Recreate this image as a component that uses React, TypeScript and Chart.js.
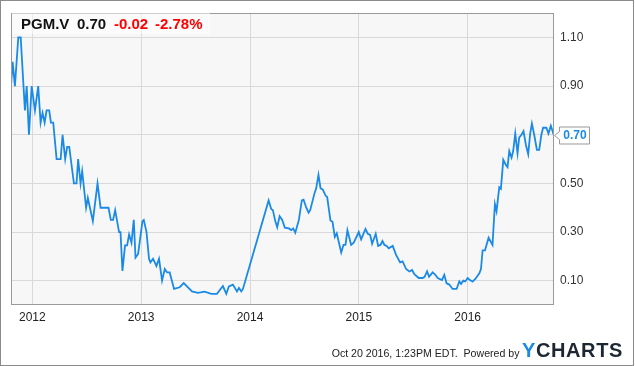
import React, { useEffect, useRef } from "react";
import { Chart, registerables } from "chart.js";

Chart.register(...registerables);

const dates: number[] = [
  2011.804, 2011.819, 2011.84, 2011.871, 2011.893, 2011.932, 2011.948, 2011.969, 2011.994, 2012.024,
  2012.054, 2012.076, 2012.094, 2012.113, 2012.131, 2012.155, 2012.171, 2012.192, 2012.223, 2012.26,
  2012.278, 2012.302, 2012.32, 2012.339, 2012.382, 2012.406, 2012.421, 2012.443, 2012.458, 2012.494,
  2012.51, 2012.556, 2012.599, 2012.627, 2012.7, 2012.721, 2012.742, 2012.761, 2012.797, 2012.81,
  2012.828, 2012.852, 2012.871, 2012.889, 2012.911, 2012.932, 2012.948, 2012.972, 2013.012, 2013.024,
  2013.049, 2013.072, 2013.085, 2013.109, 2013.125, 2013.14, 2013.164, 2013.192, 2013.217, 2013.238,
  2013.262, 2013.302, 2013.354, 2013.391, 2013.467, 2013.522, 2013.583, 2013.645, 2013.696, 2013.751,
  2013.782, 2013.806, 2013.843, 2013.88, 2013.898, 2013.92, 2013.935, 2014.171, 2014.195, 2014.21,
  2014.232, 2014.25, 2014.272, 2014.296, 2014.32, 2014.357, 2014.379, 2014.397, 2014.416, 2014.449,
  2014.476, 2014.492, 2014.517, 2014.538, 2014.553, 2014.593, 2014.608, 2014.629, 2014.648, 2014.669,
  2014.694, 2014.709, 2014.739, 2014.758, 2014.779, 2014.797, 2014.838, 2014.859, 2014.877, 2014.895,
  2014.929, 2014.953, 2014.999, 2015.021, 2015.061, 2015.082, 2015.104, 2015.122, 2015.155, 2015.177,
  2015.198, 2015.217, 2015.235, 2015.256, 2015.274, 2015.311, 2015.342, 2015.379, 2015.402, 2015.434,
  2015.464, 2015.489, 2015.51, 2015.55, 2015.586, 2015.604, 2015.627, 2015.645, 2015.678, 2015.703,
  2015.724, 2015.764, 2015.785, 2015.806, 2015.831, 2015.861, 2015.898, 2015.923, 2015.939, 2015.96,
  2015.978, 2015.999, 2016.021, 2016.045, 2016.07, 2016.107, 2016.122, 2016.137, 2016.159, 2016.192,
  2016.228, 2016.25, 2016.265, 2016.29, 2016.305, 2016.327, 2016.351, 2016.366, 2016.382, 2016.403,
  2016.418, 2016.437, 2016.458, 2016.473, 2016.494, 2016.513, 2016.535, 2016.556, 2016.574, 2016.59,
  2016.611, 2016.636, 2016.657, 2016.677, 2016.693, 2016.723, 2016.742, 2016.764, 2016.79,
];

const prices: number[] = [
  0.9, 1.0, 0.9, 1.1, 1.1, 0.8, 0.9, 0.7, 0.9, 0.8,
  0.9, 0.75, 0.79, 0.75, 0.8, 0.8, 0.75, 0.75, 0.6, 0.6,
  0.7, 0.6, 0.65, 0.65, 0.5, 0.5, 0.6, 0.5, 0.55, 0.4,
  0.44, 0.345, 0.5, 0.4, 0.4, 0.35, 0.35, 0.39, 0.3, 0.3,
  0.14, 0.245, 0.245, 0.29, 0.256, 0.35, 0.195, 0.21, 0.345, 0.35,
  0.3, 0.19, 0.175, 0.19, 0.175, 0.16, 0.19, 0.1, 0.148, 0.134,
  0.134, 0.066, 0.073, 0.09, 0.056, 0.05, 0.055, 0.046, 0.046, 0.078,
  0.046, 0.076, 0.084, 0.056, 0.07, 0.056, 0.066, 0.43, 0.395, 0.39,
  0.345, 0.32, 0.365, 0.35, 0.318, 0.315, 0.308, 0.315, 0.297, 0.35,
  0.43, 0.433, 0.4, 0.38, 0.39, 0.46, 0.48, 0.535, 0.48, 0.474,
  0.45, 0.444, 0.348, 0.342, 0.28, 0.295, 0.216, 0.247, 0.247, 0.307,
  0.247, 0.256, 0.3, 0.27, 0.313, 0.293, 0.288, 0.252, 0.293, 0.243,
  0.247, 0.263, 0.247, 0.243, 0.233, 0.243, 0.206, 0.175, 0.179, 0.148,
  0.138, 0.144, 0.127, 0.111, 0.111, 0.116, 0.138, 0.116, 0.134, 0.124,
  0.111, 0.103, 0.124, 0.089, 0.084, 0.066, 0.066, 0.097, 0.087, 0.1,
  0.097, 0.111, 0.103, 0.096, 0.107, 0.13, 0.148, 0.225, 0.225, 0.277,
  0.247, 0.415, 0.386, 0.484, 0.478, 0.597, 0.576, 0.567, 0.633, 0.606,
  0.633, 0.705, 0.624, 0.688, 0.7, 0.715, 0.658, 0.62, 0.705, 0.746,
  0.7, 0.638, 0.638, 0.7, 0.729, 0.729, 0.705, 0.737, 0.7,
];

const yearTicks: number[] = [2012, 2013, 2014, 2015, 2016];
const priceTicks: number[] = [0.1, 0.3, 0.5, 0.7, 0.9, 1.1];
const ticker = "PGM.V";
const lastPrice = "0.70";
const change = "-0.02";
const changePct = "-2.78%";
const footerText = "Oct 20 2016, 1:23PM EDT.  Powered by";

const FONT = '"Liberation Sans", Arial, sans-serif';
const LINE_COLOR = "#1a8ae6";

export default function App() {
  const canvasRef = useRef<HTMLCanvasElement | null>(null);

  useEffect(() => {
    document.body.style.margin = "0";
    const canvas = canvasRef.current;
    if (!canvas) return;

    const framePlugin = {
      id: "frame",
      beforeDraw(chart: any) {
        const { ctx, chartArea: a } = chart;
        ctx.save();
        ctx.fillStyle = "#f7f7f7";
        ctx.fillRect(a.left, a.top, a.right - a.left, a.bottom - a.top);
        ctx.restore();
      },
      afterDraw(chart: any) {
        const { ctx, chartArea: a } = chart;
        ctx.save();
        ctx.strokeStyle = "#9a9a9a";
        ctx.lineWidth = 1;
        ctx.strokeRect(Math.round(a.left) + 0.5, Math.round(a.top) + 0.5, Math.round(a.right - a.left) - 1, Math.round(a.bottom - a.top) - 1);

        // last price tag
        const last = prices[prices.length - 1];
        const py = Math.round(chart.scales.y.getPixelForValue(last)) + 0.5;
        const x0 = Math.round(a.right) + 5.5;
        const x1 = x0 + 30;
        ctx.beginPath();
        ctx.moveTo(x0, py - 8.5);
        ctx.lineTo(x1, py - 8.5);
        ctx.lineTo(x1, py + 8.5);
        ctx.lineTo(x0, py + 8.5);
        ctx.lineTo(x0, py + 4);
        ctx.lineTo(a.right + 0.5, py);
        ctx.lineTo(x0, py - 4);
        ctx.closePath();
        ctx.fillStyle = "#ffffff";
        ctx.fill();
        ctx.strokeStyle = "#999999";
        ctx.stroke();
        ctx.fillStyle = LINE_COLOR;
        ctx.font = `bold 12px ${FONT}`;
        ctx.textAlign = "center";
        ctx.textBaseline = "middle";
        ctx.fillText(lastPrice, (x0 + x1) / 2 + 0.5, py + 0.5);
        ctx.restore();
      },
    };

    const chart = new Chart(canvas, {
      type: "line",
      data: {
        datasets: [
          {
            data: dates.map((d, i) => ({ x: d, y: prices[i] })),
            borderColor: LINE_COLOR,
            borderWidth: 1.8,
            pointRadius: 0,
            tension: 0,
            fill: false,
          },
        ],
      },
      options: {
        responsive: false,
        animation: false,
        devicePixelRatio: 1,
        layout: { padding: { top: 11, left: 11, right: 0, bottom: 0 } },
        plugins: { legend: { display: false }, tooltip: { enabled: false } },
        scales: {
          x: {
            type: "linear",
            min: 2011.804,
            max: 2016.793,
            afterBuildTicks: (s: any) => {
              s.ticks = yearTicks.map((v) => ({ value: v }));
            },
            afterFit: (s: any) => {
              s.height = 61;
            },
            ticks: {
              autoSkip: false,
              maxRotation: 0,
              padding: 5,
              color: "#222",
              font: { family: FONT, size: 12 },
              callback: (v: any) => String(v),
            },
            grid: { color: "#d9d9d9", drawTicks: false },
            border: { display: false },
          },
          y: {
            type: "linear",
            position: "right",
            min: 0,
            max: 1.2,
            afterBuildTicks: (s: any) => {
              s.ticks = priceTicks.map((v) => ({ value: v }));
            },
            afterFit: (s: any) => {
              s.width = 81;
            },
            ticks: {
              padding: 6,
              color: "#333",
              font: { family: FONT, size: 12 },
              callback: (v: any) => Number(v).toFixed(2),
            },
            grid: { color: "#d9d9d9", drawTicks: false },
            border: { display: false },
          },
        },
      } as any,
      plugins: [framePlugin],
    });

    return () => chart.destroy();
  }, []);

  return (
    <div style={{ position: "relative", width: 635, height: 366, overflow: "hidden", background: "#fff", fontFamily: FONT }}>
      <canvas ref={canvasRef} width={635} height={366} style={{ position: "absolute", left: 0, top: 0, width: 635, height: 366 }} />
      <div style={{ position: "absolute", left: 12, top: 12, width: 198, height: 22, background: "rgba(255,255,255,0.5)" }} />
      <div style={{ position: "absolute", left: 21, top: 15.6, fontSize: 15, lineHeight: "15px", fontWeight: "bold", whiteSpace: "pre" }}>
        <span style={{ position: "absolute", left: 0, color: "#111" }}>{ticker}</span>
        <span style={{ position: "absolute", left: 56, color: "#111" }}>{lastPrice}</span>
        <span style={{ position: "absolute", left: 93, color: "#ff0000" }}>{change}</span>
        <span style={{ position: "absolute", left: 134, color: "#ff0000" }}>{changePct}</span>
      </div>
      <div style={{ position: "absolute", right: 115.5, top: 347.6, fontSize: 10.6, lineHeight: "11px", color: "#222", whiteSpace: "pre" }}>
        {footerText}
      </div>
      <div style={{ position: "absolute", left: 522, top: 339.8, fontSize: 20, lineHeight: "20px", fontWeight: "bold", letterSpacing: 0.6, whiteSpace: "pre" }}>
        <span style={{ color: "#1a8ae6" }}>Y</span>
        <span style={{ color: "#1d2732" }}>CHARTS</span>
      </div>
      <div style={{ position: "absolute", left: 0, top: 0, width: 634, height: 366, border: "1px solid #8a8a8a", boxSizing: "border-box", pointerEvents: "none" }} />
    </div>
  );
}
